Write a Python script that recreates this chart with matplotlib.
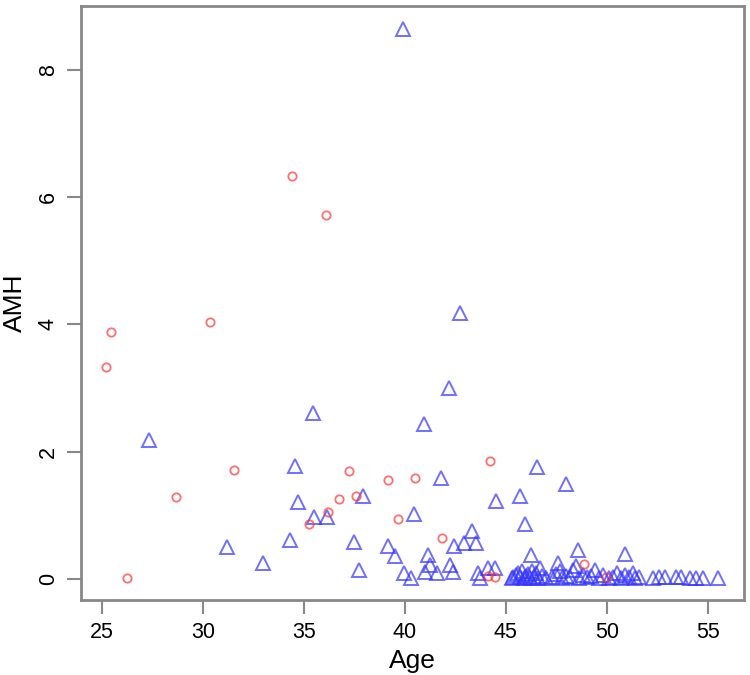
import matplotlib
matplotlib.use("Agg")
from matplotlib import pyplot as plt

# red circles (age, AMH)
red_age = [25.2, 25.43, 26.25, 28.68, 30.35, 31.53, 34.39, 36.09, 35.27, 36.17,
           36.75, 37.57, 37.23, 39.17, 40.48, 39.65, 41.83, 44.2, 44.1, 44.45,
           48.86, 49.98]
red_amh = [3.33, 3.88, 0.01, 1.29, 4.03, 1.72, 6.33, 5.72, 0.86, 1.05,
           1.26, 1.31, 1.70, 1.56, 1.59, 0.94, 0.64, 1.85, 0.05, 0.04,
           0.23, 0.03]

# blue triangles (age, AMH)
blue_age = [27.34, 31.2, 32.95, 34.3, 34.55, 34.69, 35.43, 35.5, 36.15, 37.48,
            37.72, 37.94, 39.14, 39.52, 39.9, 39.93, 40.28, 40.45, 40.94, 40.99,
            41.12, 41.24, 41.57, 41.81, 42.18, 42.23, 42.39, 42.41, 42.74, 42.92,
            43.3, 43.54, 43.63, 43.71, 44.12, 44.45, 44.53, 45.36, 45.6, 45.69,
            45.94, 46.27, 46.52, 47.59, 48.0, 48.33, 48.58, 50.89,
            45.3, 45.5, 45.7, 45.8, 45.9, 46.0, 46.1, 46.2, 46.3, 46.4,
            46.5, 46.6, 46.7, 46.8, 47.0, 47.3, 47.5, 47.7, 47.8, 48.0,
            48.2, 48.5, 48.6, 48.8, 49.0, 49.2, 49.4, 49.6, 49.8, 50.1,
            50.3, 50.5, 50.7, 50.9, 51.1, 51.3, 51.4, 51.6, 52.29, 52.57,
            52.87, 53.45, 53.7, 54.11, 54.44, 54.77, 55.51]
blue_amh = [2.18, 0.50, 0.25, 0.62, 1.78, 1.21, 2.61, 0.98, 0.98, 0.59,
            0.15, 1.31, 0.52, 0.37, 8.64, 0.09, 0.01, 1.02, 2.44, 0.11,
            0.38, 0.22, 0.09, 1.59, 3.00, 0.22, 0.11, 0.52, 4.18, 0.56,
            0.75, 0.56, 0.09, 0.01, 0.17, 0.17, 1.22, 0.04, 0.09, 1.30,
            0.86, 0.38, 1.76, 0.25, 1.49, 0.14, 0.46, 0.40,
            0.02, 0.06, 0.03, 0.12, 0.01, 0.05, 0.08, 0.02, 0.12, 0.04,
            0.09, 0.01, 0.17, 0.05, 0.02, 0.04, 0.08, 0.13, 0.01, 0.05,
            0.03, 0.20, 0.02, 0.07, 0.03, 0.05, 0.14, 0.02, 0.06, 0.01,
            0.04, 0.10, 0.02, 0.06, 0.03, 0.10, 0.02, 0.04, 0.02, 0.04,
            0.04, 0.03, 0.03, 0.02, 0.02, 0.02, 0.02]

xticks = [25, 30, 35, 40, 45, 50, 55]
yticks = [0, 2, 4, 6, 8]

plt.rcParams['font.family'] = ['Liberation Sans', 'DejaVu Sans']

fig = plt.figure(figsize=(7.5, 6.75), dpi=100)
ax = fig.add_axes([0.108, 0.111, 0.884, 0.880])

ax.plot(blue_age, blue_amh, linestyle='none', marker='^', markersize=10,
        markerfacecolor='none', markeredgecolor='#3333ff', markeredgewidth=1.4, alpha=0.7)
ax.plot(red_age, red_amh, linestyle='none', marker='o', markersize=6,
        markerfacecolor='none', markeredgecolor='#ff3333', markeredgewidth=1.3, alpha=0.7)

ax.set_xlim(23.95, 56.8)
ax.set_ylim(-0.33, 9.0)
ax.set_xticks(xticks)
ax.set_yticks(yticks)
ax.set_yticklabels([str(v) for v in yticks], rotation=90, va='center')

for s in ax.spines.values():
    s.set_color('#888888')
    s.set_linewidth(2)
ax.tick_params(axis='both', direction='out', length=10, width=1.5, color='#888888',
               labelsize=15.5, pad=6)

ax.set_xlabel('Age', fontsize=19, labelpad=4)
ax.set_ylabel('AMH', fontsize=19, labelpad=8)

fig.savefig('out.png', dpi=100)
